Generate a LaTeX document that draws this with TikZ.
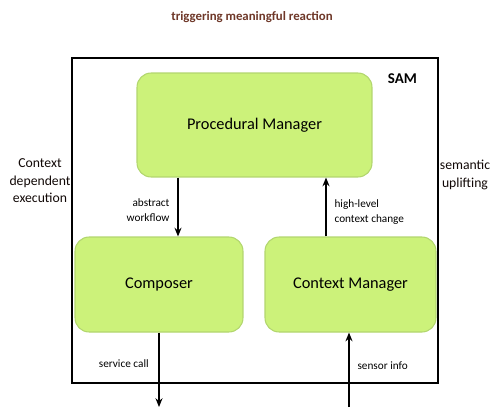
\documentclass[tikz,border=0pt]{standalone}
\usepackage{fontspec}
\setmainfont{Carlito}
\usetikzlibrary{arrows.meta}
\definecolor{boxgreen}{RGB}{204,242,122}
\definecolor{boxedge}{RGB}{178,214,110}
\definecolor{titlebrown}{RGB}{110,55,40}
\begin{document}
\begin{tikzpicture}[x=0.02cm,y=-0.02cm,
  thick,comp node/.style={rectangle,rounded corners=8pt,fill=boxgreen,draw=boxedge,line width=0.6pt,font=\fontsize{9.3}{11}\selectfont},
  lbl/.style={font=\fontsize{6.4}{8.5}\selectfont,align=left},
  side/.style={font=\fontsize{7.8}{10}\selectfont,align=center,text=black!85!titlebrown},
  flow/.style={line width=1.1pt,-{Stealth[length=5pt,width=4pt]}}]

  \useasboundingbox (0,0) rectangle (490,407);

  % outer frame
  \node[draw,line width=1.5pt,minimum width=7.32cm,minimum height=6.5cm,inner sep=0pt] (SAM) at (255,220.5) {};
  \node[font=\fontsize{8.5}{10}\selectfont\bfseries,anchor=north east] (samlbl) at (SAM.north east) [xshift=-9pt,yshift=-6pt] {SAM};

  \node[comp node,minimum width=4.7cm,minimum height=2.08cm] (PM) at (254.5,125) {Procedural Manager};
  \node[comp node,minimum width=3.36cm,minimum height=1.9cm] (Comp) at (159,284.5) {Composer};
  \node[comp node,minimum width=3.42cm,minimum height=1.9cm] (CM) at (350.5,284.5) {Context Manager};

  \node[font=\fontsize{7.3}{9}\selectfont\bfseries,text=titlebrown] (title) at (252,17) {triggering meaningful reaction};
  \node[side] (ctx) at (40,181) {Context\\dependent\\execution};
  \node[side] (sem) at (465,175) {semantic\\uplifting};

  \coordinate (awx) at (178,0);
  \coordinate (hlx) at (326,0);
  \coordinate (out) at (159,407);
  \coordinate (in) at (349,407);

  \draw[flow] (PM.south -| awx) -- (Comp.north -| awx)
    node[lbl,midway,anchor=east,align=right,xshift=-1pt,yshift=-2pt] {abstract\\workflow};
  \draw[flow] (CM.north -| hlx) -- (PM.south -| hlx)
    node[lbl,midway,anchor=west,xshift=1pt,yshift=-3pt] {high-level\\context change};
  \draw[flow] (Comp.south -| out) -- (out)
    node[lbl,pos=0.42,anchor=east,xshift=-2pt] {service call};
  \draw[flow] (in) -- (CM.south -| in)
    node[lbl,pos=0.55,anchor=west,xshift=1pt] {sensor info};
\end{tikzpicture}
\end{document}
